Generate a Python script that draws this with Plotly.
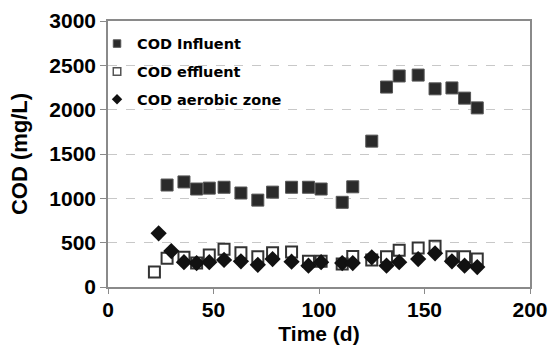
import plotly.graph_objects as go

# Sampling days and COD concentrations (mg/L)
day_influent = [28, 36, 42, 48, 55, 63, 71, 78, 87, 95, 101, 111, 116,
                125, 132, 138, 147, 155, 163, 169, 175]
cod_influent = [1150, 1185, 1105, 1115, 1125, 1060, 980, 1070, 1125, 1125, 1105, 955, 1130,
                1645, 2255, 2380, 2390, 2235, 2245, 2130, 2020]

day_effluent = [22, 28, 36, 42, 48, 55, 63, 71, 78, 87, 95, 101, 111, 116,
                125, 132, 138, 147, 155, 163, 169, 175]
cod_effluent = [170, 325, 335, 270, 360, 425, 385, 340, 385, 395, 290, 290, 260, 345,
                305, 340, 415, 440, 460, 340, 340, 315]

day_aerobic = [24, 30, 36, 42, 48, 55, 63, 71, 78, 87, 95, 101, 111, 116,
               125, 132, 138, 147, 155, 163, 169, 175]
cod_aerobic = [605, 405, 280, 270, 280, 305, 290, 250, 315, 285, 240, 280, 270, 270,
               335, 240, 280, 315, 380, 290, 240, 225]

x_ticks = [0, 50, 100, 150, 200]
y_ticks = [0, 500, 1000, 1500, 2000, 2500, 3000]

FONT = "Liberation Sans, Arial, sans-serif"
AXIS_GREY = "#8a8a8a"

fig = go.Figure()

# Data markers
fig.add_trace(go.Scatter(
    x=day_influent, y=cod_influent, mode="markers", showlegend=False,
    marker=dict(symbol="square", size=12, color="#2a2a2a",
                line=dict(color="#555555", width=1))))
fig.add_trace(go.Scatter(
    x=day_effluent, y=cod_effluent, mode="markers", showlegend=False,
    marker=dict(symbol="square-open", size=11, color="#333333",
                line=dict(color="#333333", width=2))))
fig.add_trace(go.Scatter(
    x=day_aerobic, y=cod_aerobic, mode="markers", showlegend=False,
    marker=dict(symbol="diamond", size=12.5, color="#111111")))

# Legend entries with smaller symbols
legend_items = [
    ("COD Influent", dict(symbol="square", size=7.5, color="#2a2a2a",
                          line=dict(color="#555555", width=1))),
    ("COD effluent", dict(symbol="square-open", size=7.5, color="#555555",
                          line=dict(color="#555555", width=1.5))),
    ("COD aerobic zone", dict(symbol="diamond", size=8, color="#111111")),
]
for i, (name, mk) in enumerate(legend_items):
    fig.add_trace(go.Scatter(x=[None], y=[None], mode="markers", name=name,
                             legendgroup=f"g{i}", marker=mk))

fig.update_layout(
    width=551, height=345,
    margin=dict(l=108, r=21, t=21, b=58),
    paper_bgcolor="white", plot_bgcolor="white",
    font=dict(family=FONT, color="black", size=21, weight="bold"),
    legend=dict(x=-0.026, y=0.975, xanchor="left", yanchor="top",
                bgcolor="rgba(0,0,0,0)",
                font=dict(family="DejaVu Sans, sans-serif", size=14.5, weight="bold"),
                itemwidth=30, traceorder="grouped", tracegroupgap=6),
    xaxis=dict(range=[0, 200], tickvals=x_ticks, showgrid=False, zeroline=False,
               automargin=False,
               showline=True, linecolor=AXIS_GREY, linewidth=1.5, mirror=True,
               ticks="outside", ticklen=5, tickcolor=AXIS_GREY, ticklabelstandoff=-2,
               title=dict(text="Time (d)", standoff=8, font=dict(size=21, weight="bold"))),
    yaxis=dict(range=[0, 3000], tickvals=y_ticks, showgrid=True, gridcolor="#c8c8c8",
               griddash="dash", gridwidth=1, zeroline=False, automargin=False,
               showline=True, linecolor=AXIS_GREY, linewidth=1.5, mirror=True,
               ticks="outside", ticklen=6, tickcolor=AXIS_GREY,
               title=dict(text="COD (mg/L)", standoff=16, font=dict(size=22, weight="bold"))),
)

fig.write_html("out.html")
